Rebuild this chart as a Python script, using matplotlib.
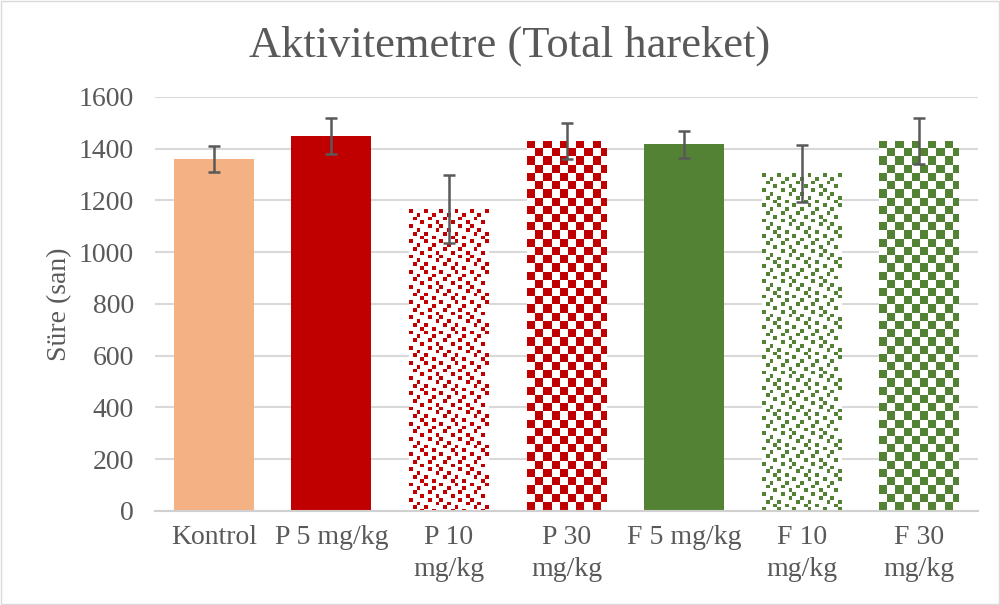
import matplotlib
matplotlib.use("Agg")
import matplotlib.pyplot as plt
import numpy as np
from matplotlib.patches import Rectangle

plt.rcParams["font.family"] = ["Liberation Serif", "DejaVu Serif"]

labels = ["Kontrol", "P 5 mg/kg", "P 10\nmg/kg", "P 30\nmg/kg",
          "F 5 mg/kg", "F 10\nmg/kg", "F 30\nmg/kg"]
means = [1360, 1450, 1167, 1430, 1418, 1306, 1430]
errors = [50, 70, 130, 68, 52, 110, 90]
colors = ["#f4b183", "#c00000", "#c00000", "#c00000", "#548235", "#548235", "#548235"]
fills = ["solid", "solid", "confetti", "checker", "solid", "confetti", "checker"]

GRAY = "#595959"

# 8x8 small-confetti tile (column indices set per row)
CONFETTI_ROWS = [(0, 4), (2, 6), (1, 5), (3, 7), (0, 5), (2, 7), (1, 4), (3, 6)]

fig = plt.figure(figsize=(10, 6.05), dpi=100)
ax = fig.add_axes([0.155, 0.1554, 0.823, 0.6843])
ax.set_xlim(-0.5, len(labels) - 0.5)
ax.set_ylim(0, 1600)

x = np.arange(len(labels))
bars = ax.bar(x, means, width=0.68, color=colors, zorder=2)

# pixel scale for textures
fig.canvas.draw()
px_x = ax.transData.transform((1, 0))[0] - ax.transData.transform((0, 0))[0]
px_y = ax.transData.transform((0, 100))[1] - ax.transData.transform((0, 0))[1]


def texture(kind, nx, ny):
    if kind == "checker":
        ii, jj = np.meshgrid(np.arange(nx), np.arange(ny))
        return (ii + jj) % 2 == 0
    m = np.zeros((ny, nx), bool)
    for r in range(ny):
        for c in CONFETTI_ROWS[r % 8]:
            m[r, c::8] = True
    return m


for b, kind, col in zip(bars, fills, colors):
    if kind == "solid":
        continue
    cell = 8.2 if kind == "checker" else 3.8
    w_px = b.get_width() * px_x
    h_px = b.get_height() * px_y / 100
    nx = int(np.ceil(w_px / cell))
    ny = int(np.ceil(h_px / cell))
    m = texture(kind, nx, ny)
    rgb = np.array(matplotlib.colors.to_rgb(col))
    img = np.ones((ny, nx, 3))
    img[m] = rgb
    x0 = b.get_x()
    y1 = b.get_y() + b.get_height()
    x1 = x0 + nx * cell / px_x
    y0 = y1 - ny * cell / px_y * 100
    b.set_facecolor("white")
    im = ax.imshow(img, extent=(x0, x1, y0, y1), origin="upper",
                   interpolation="nearest", aspect="auto", zorder=2.5)
    im.set_clip_path(b)

ax.set_xlim(-0.5, len(labels) - 0.5)
ax.set_ylim(0, 1600)

ax.errorbar(x, means, yerr=errors, fmt="none", ecolor=GRAY, elinewidth=1.8,
            capsize=4.5, capthick=1.8, zorder=3)

ax.set_yticks(np.arange(0, 1601, 200))
ax.yaxis.grid(True, color="#d9d9d9", lw=1.5, zorder=0)
ax.set_axisbelow(True)
for s in ["top", "right", "left"]:
    ax.spines[s].set_visible(False)
ax.spines["bottom"].set_color("#d0d0d0")
ax.spines["bottom"].set_linewidth(1.5)
ax.tick_params(axis="both", length=0, labelsize=20, colors=GRAY)
ax.tick_params(axis="x", pad=10)
ax.tick_params(axis="y", pad=15)
ax.set_xticks(x)
ax.set_xticklabels(labels, fontsize=20, linespacing=1.4, va="top")

ax.set_ylabel("Süre (san)", fontsize=20, color=GRAY, labelpad=0)
ax.yaxis.set_label_coords(-0.101, 0.5)
fig.text(0.51, 0.925, "Aktivitemetre (Total hareket)", ha="center", va="center",
         fontsize=32, color=GRAY)

fig.patches.append(Rectangle((0.001, 0.002), 0.998, 0.996, transform=fig.transFigure,
                             fill=False, edgecolor="#d9d9d9", lw=1))

fig.savefig("out.png", dpi=100)
